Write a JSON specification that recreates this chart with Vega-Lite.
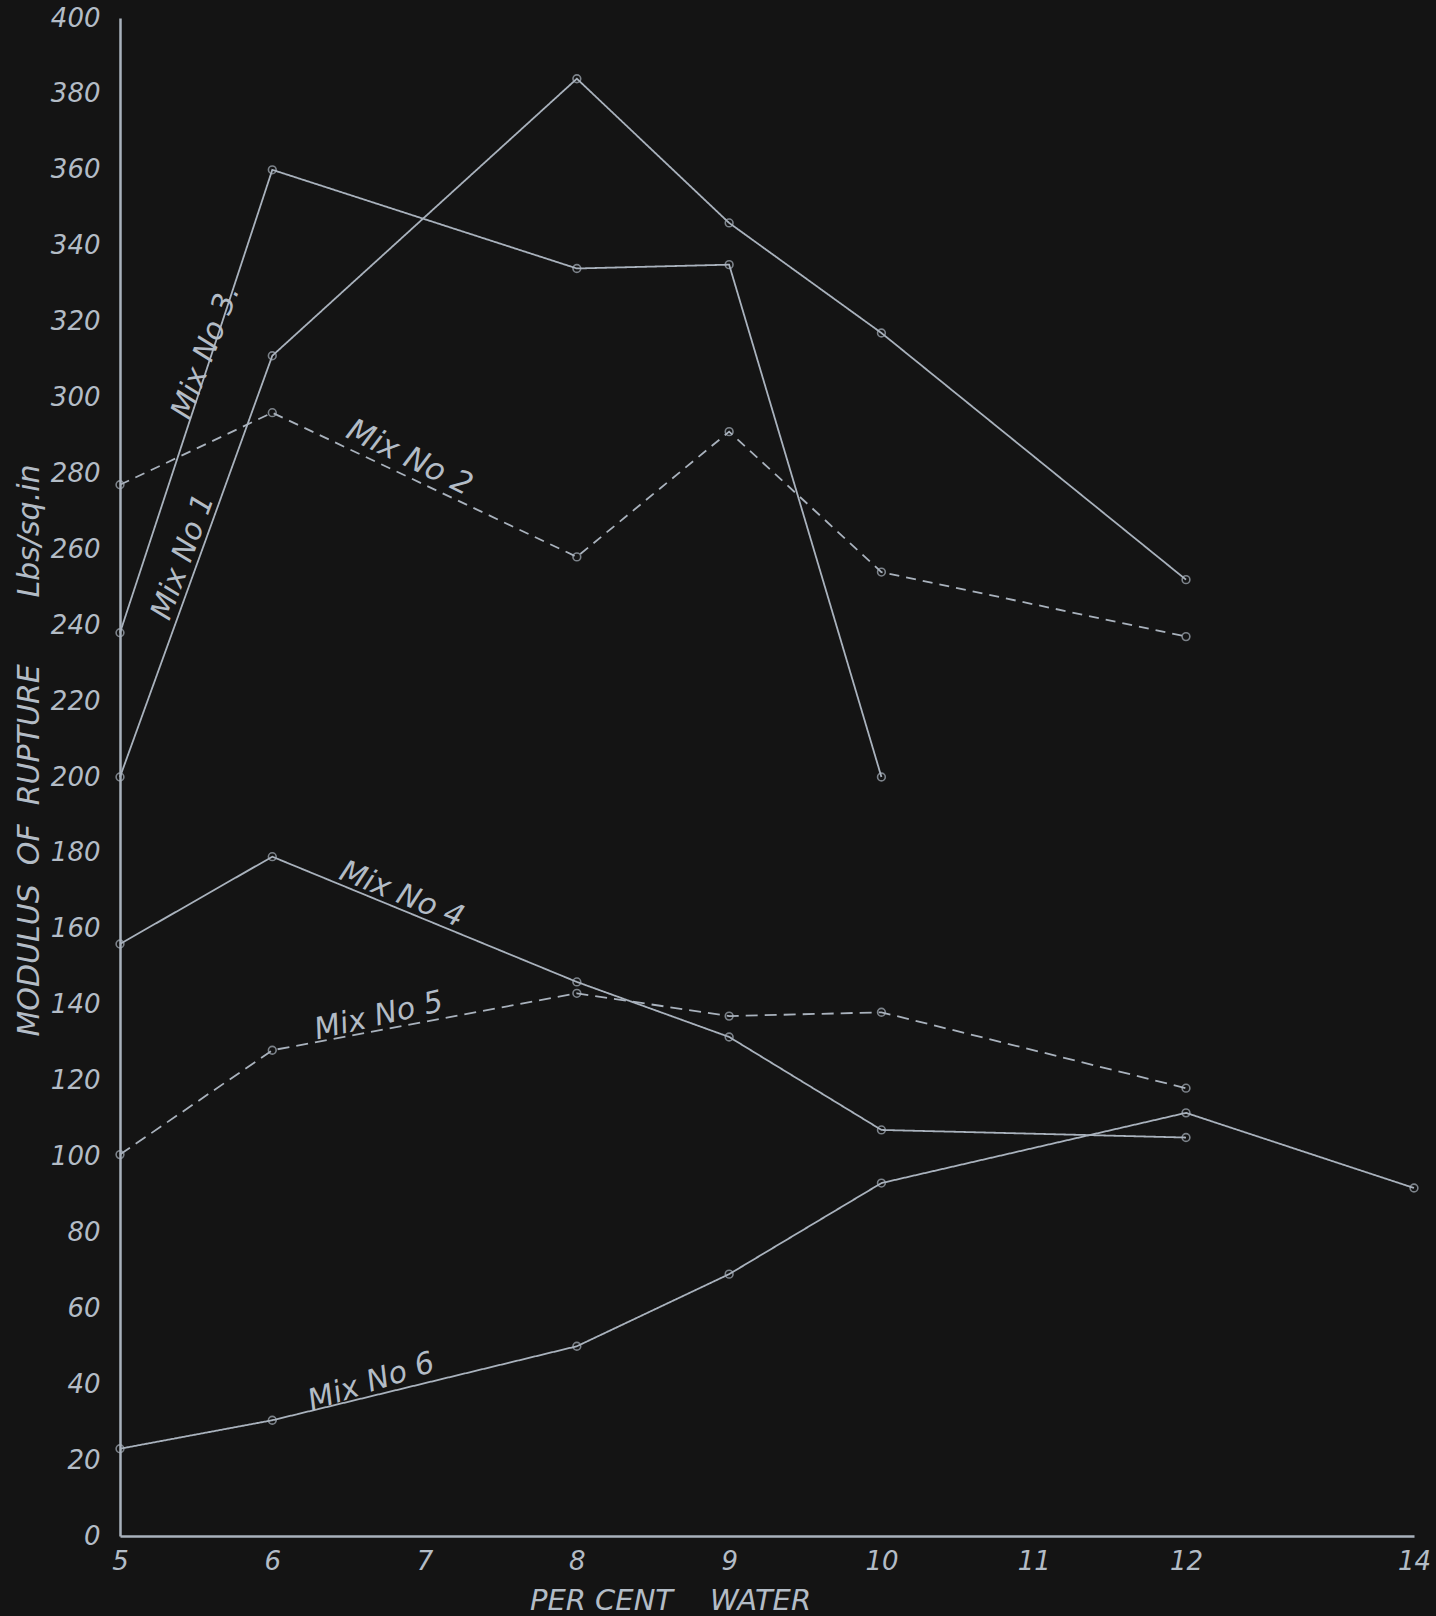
{
  "$schema": "https://vega.github.io/schema/vega-lite/v6.json",
  "autosize": {"type": "none"},
  "padding": {"left": 120, "top": 18, "right": 22, "bottom": 80},
  "width": 1294,
  "height": 1518,
  "background": "#141414",
  "config": {
    "view": {"stroke": null},
    "font": "DejaVu Sans"
  },
  "datasets": {
    "points": [
      {"series": "Mix No 1", "water": 5, "strength": 200},
      {"series": "Mix No 1", "water": 6, "strength": 311},
      {"series": "Mix No 1", "water": 8, "strength": 384},
      {"series": "Mix No 1", "water": 9, "strength": 346},
      {"series": "Mix No 1", "water": 10, "strength": 317},
      {"series": "Mix No 1", "water": 12, "strength": 252},
      {"series": "Mix No 2", "water": 5, "strength": 277},
      {"series": "Mix No 2", "water": 6, "strength": 296},
      {"series": "Mix No 2", "water": 8, "strength": 258},
      {"series": "Mix No 2", "water": 9, "strength": 291},
      {"series": "Mix No 2", "water": 10, "strength": 254},
      {"series": "Mix No 2", "water": 12, "strength": 237},
      {"series": "Mix No 3", "water": 5, "strength": 238},
      {"series": "Mix No 3", "water": 6, "strength": 360},
      {"series": "Mix No 3", "water": 8, "strength": 334},
      {"series": "Mix No 3", "water": 9, "strength": 335},
      {"series": "Mix No 3", "water": 10, "strength": 200},
      {"series": "Mix No 4", "water": 5, "strength": 156},
      {"series": "Mix No 4", "water": 6, "strength": 179},
      {"series": "Mix No 4", "water": 8, "strength": 146},
      {"series": "Mix No 4", "water": 9, "strength": 131.5},
      {"series": "Mix No 4", "water": 10, "strength": 107},
      {"series": "Mix No 4", "water": 12, "strength": 105},
      {"series": "Mix No 5", "water": 5, "strength": 100.5},
      {"series": "Mix No 5", "water": 6, "strength": 128},
      {"series": "Mix No 5", "water": 8, "strength": 143},
      {"series": "Mix No 5", "water": 9, "strength": 137},
      {"series": "Mix No 5", "water": 10, "strength": 138},
      {"series": "Mix No 5", "water": 12, "strength": 118},
      {"series": "Mix No 6", "water": 5, "strength": 23},
      {"series": "Mix No 6", "water": 6, "strength": 30.5},
      {"series": "Mix No 6", "water": 8, "strength": 50},
      {"series": "Mix No 6", "water": 9, "strength": 69},
      {"series": "Mix No 6", "water": 10, "strength": 93},
      {"series": "Mix No 6", "water": 12, "strength": 111.5},
      {"series": "Mix No 6", "water": 14, "strength": 91.7}
    ]
  },
  "layer": [
    {
      "data": {"name": "points"},
      "mark": {"type": "line", "color": "#a9b2bd", "strokeWidth": 1.8},
      "encoding": {
        "x": {
          "field": "water", "type": "quantitative",
          "scale": {"domain": [5, 12, 14], "range": [0, 1066, 1294], "zero": false, "nice": false},
          "axis": {
            "values": [5, 6, 7, 8, 9, 10, 11, 12, 14],
            "format": "d",
            "labelFlush": false,
            "title": "PER CENT\u00a0\u00a0\u00a0\u00a0WATER",
            "titleX": 550, "titleY": 64, "titleBaseline": "middle", "titleAnchor": "middle",
            "titleFont": "DejaVu Sans", "titleFontStyle": "italic", "titleFontWeight": "normal",
            "titleFontSize": 29, "titleColor": "#b3bcc6",
            "labelFont": "DejaVu Sans", "labelFontStyle": "italic", "labelFontSize": 26,
            "labelColor": "#b3bcc6", "labelPadding": 12,
            "ticks": false, "grid": false,
            "domainColor": "#a9b2bd", "domainWidth": 2.5
          }
        },
        "y": {
          "field": "strength", "type": "quantitative",
          "scale": {"domain": [0, 400], "zero": true, "nice": false},
          "axis": {
            "values": [0, 20, 40, 60, 80, 100, 120, 140, 160, 180, 200, 220, 240, 260, 280, 300, 320, 340, 360, 380, 400],
            "title": "MODULUS\u00a0\u00a0OF\u00a0\u00a0RUPTURE\u00a0\u00a0\u00a0\u00a0\u00a0\u00a0\u00a0Lbs/sq.in",
            "titleX": -91, "titleY": 732, "titleAngle": -90, "titleAnchor": "middle", "titleBaseline": "middle",
            "titleFont": "DejaVu Sans", "titleFontStyle": "italic", "titleFontWeight": "normal",
            "titleFontSize": 30, "titleColor": "#b3bcc6",
            "labelFont": "DejaVu Sans", "labelFontStyle": "italic", "labelFontSize": 26,
            "labelColor": "#b3bcc6", "labelPadding": 20,
            "ticks": false, "grid": false,
            "domainColor": "#a9b2bd", "domainWidth": 2.5
          }
        },
        "detail": {"field": "series"},
        "strokeDash": {
          "field": "series", "type": "nominal",
          "scale": {
            "domain": ["Mix No 1", "Mix No 2", "Mix No 3", "Mix No 4", "Mix No 5", "Mix No 6"],
            "range": [[1, 0], [10, 7], [1, 0], [1, 0], [12, 7], [1, 0]]
          },
          "legend": null
        }
      }
    },
    {
      "data": {"name": "points"},
      "mark": {"type": "point", "shape": "circle", "filled": false, "size": 60, "color": "#a9b2bd", "strokeWidth": 1.6},
      "encoding": {
        "x": {"field": "water", "type": "quantitative"},
        "y": {"field": "strength", "type": "quantitative"}
      }
    },
    {
      "data": {"values": [{"label": "Mix No 3.", "water": 5.565, "strength": 312}]},
      "mark": {"type": "text", "angle": -69, "font": "DejaVu Sans", "fontStyle": "italic", "fontSize": 30, "color": "#b3bcc6", "align": "center", "baseline": "middle"},
      "encoding": {"x": {"field": "water", "type": "quantitative"}, "y": {"field": "strength", "type": "quantitative"}, "text": {"field": "label"}}
    },
    {
      "data": {"values": [{"label": "Mix No 1", "water": 5.415, "strength": 258}]},
      "mark": {"type": "text", "angle": -70, "font": "DejaVu Sans", "fontStyle": "italic", "fontSize": 30, "color": "#b3bcc6", "align": "center", "baseline": "middle"},
      "encoding": {"x": {"field": "water", "type": "quantitative"}, "y": {"field": "strength", "type": "quantitative"}, "text": {"field": "label"}}
    },
    {
      "data": {"values": [{"label": "Mix No 2", "water": 6.9, "strength": 284}]},
      "mark": {"type": "text", "angle": 26, "font": "DejaVu Sans", "fontStyle": "italic", "fontSize": 31, "color": "#b3bcc6", "align": "center", "baseline": "middle"},
      "encoding": {"x": {"field": "water", "type": "quantitative"}, "y": {"field": "strength", "type": "quantitative"}, "text": {"field": "label"}}
    },
    {
      "data": {"values": [{"label": "Mix No 4", "water": 6.85, "strength": 169}]},
      "mark": {"type": "text", "angle": 22, "font": "DejaVu Sans", "fontStyle": "italic", "fontSize": 30, "color": "#b3bcc6", "align": "center", "baseline": "middle"},
      "encoding": {"x": {"field": "water", "type": "quantitative"}, "y": {"field": "strength", "type": "quantitative"}, "text": {"field": "label"}}
    },
    {
      "data": {"values": [{"label": "Mix No 5", "water": 6.7, "strength": 137}]},
      "mark": {"type": "text", "angle": -13, "font": "DejaVu Sans", "fontStyle": "italic", "fontSize": 30, "color": "#b3bcc6", "align": "center", "baseline": "middle"},
      "encoding": {"x": {"field": "water", "type": "quantitative"}, "y": {"field": "strength", "type": "quantitative"}, "text": {"field": "label"}}
    },
    {
      "data": {"values": [{"label": "Mix No 6", "water": 6.65, "strength": 40.5}]},
      "mark": {"type": "text", "angle": -18, "font": "DejaVu Sans", "fontStyle": "italic", "fontSize": 30, "color": "#b3bcc6", "align": "center", "baseline": "middle"},
      "encoding": {"x": {"field": "water", "type": "quantitative"}, "y": {"field": "strength", "type": "quantitative"}, "text": {"field": "label"}}
    }
  ]
}
